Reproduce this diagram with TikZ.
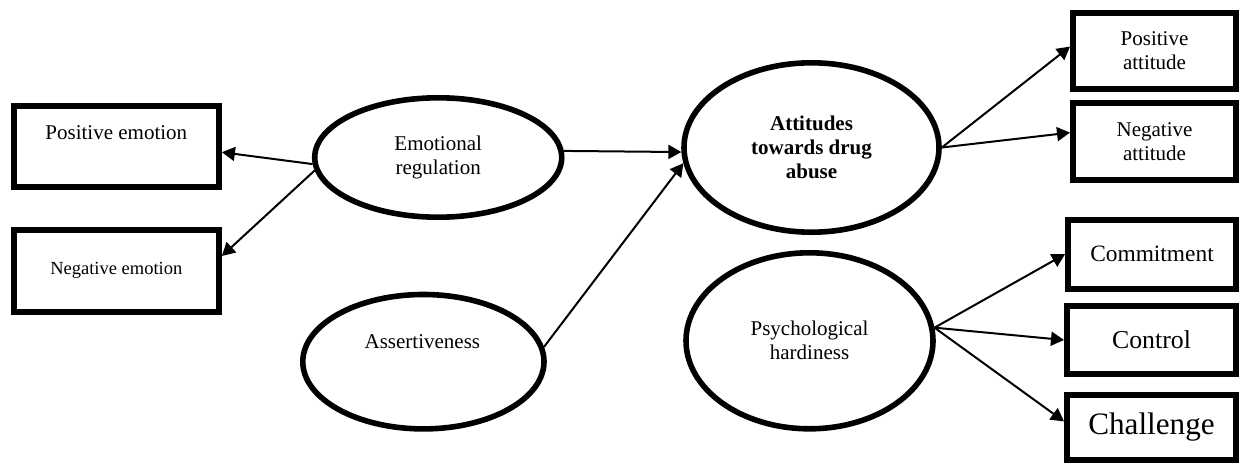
\documentclass[tikz,border=0pt]{standalone}
\usepackage{fontspec}
\setmainfont{Liberation Serif}
\usetikzlibrary{shapes.geometric,arrows.meta}
\begin{document}
\begin{tikzpicture}[x=0.5pt,y=-0.5pt,
    txt/.style={inner sep=0pt,align=center,font=\fontsize{10.5}{12}\selectfont},
    box/.style={txt,draw,line width=3pt},
    oval/.style={txt,draw,ellipse,line width=2.8pt},
    arr/.style={-{Triangle[length=6.5pt,width=7pt]},line width=1pt}]
  \useasboundingbox (0,0) rectangle (1240,465);

  \node[box,minimum width=102.6pt,minimum height=40.3pt] (posemo) at (116.3,146.7) {};
  \node[txt] (posemotext) at (116.3,132.5) {Positive emotion};
  \node[box,minimum width=102.6pt,minimum height=41.1pt,font=\fontsize{9.25}{11}\selectfont] (negemo) at (116.3,270.8) {Negative emotion};

  \node[oval,minimum width=123.5pt,minimum height=59.7pt] (emoreg) at (438.2,157.5) {Emotional\\regulation};
  \node[oval,minimum width=120.6pt,minimum height=67.2pt] (assert) at (423.4,361.7) {};
  \node[txt] (asserttext) at (422.4,341.7) {Assertiveness};

  \node[oval,minimum width=127.5pt,minimum height=84.7pt,font=\bfseries\fontsize{10.5}{12}\selectfont] (attitudes) at (811.5,147.5) {Attitudes\\towards drug\\abuse};
  \node[oval,minimum width=123.5pt,minimum height=88pt] (hardiness) at (809.5,340.8) {Psychological\\hardiness};

  \node[box,minimum width=81.5pt,minimum height=38pt] (posatt) at (1154.5,51) {Positive\\attitude};
  \node[box,minimum width=81.5pt,minimum height=38.5pt] (negatt) at (1154.5,141.5) {Negative\\attitude};
  \node[box,minimum width=84pt,minimum height=34.5pt,font=\fontsize{11.7}{13}\selectfont] (commit) at (1152,254.2) {Commitment};
  \node[box,minimum width=84.5pt,minimum height=33.7pt,font=\fontsize{12.9}{14}\selectfont] (control) at (1151.5,340) {Control};
  \node[box,minimum width=84.5pt,minimum height=32.8pt,font=\fontsize{15.6}{17}\selectfont] (challenge) at (1151.5,427.5) {Challenge};

  \draw[arr] (emoreg.183) -- (posemo.-3);
  \draw[arr] (emoreg.186) -- (negemo.8);
  \draw[arr] (emoreg.3) -- (attitudes.182);
  \draw[arr] (assert.7) -- (attitudes.187);
  \draw[arr] (attitudes.0) -- (posatt.177);
  \draw[arr] (attitudes.0) -- (negatt.174);
  \foreach \t/\a in {commit/180,control/180,challenge/176}
    \draw[arr] (hardiness.6) -- (\t.\a);
\end{tikzpicture}
\end{document}
